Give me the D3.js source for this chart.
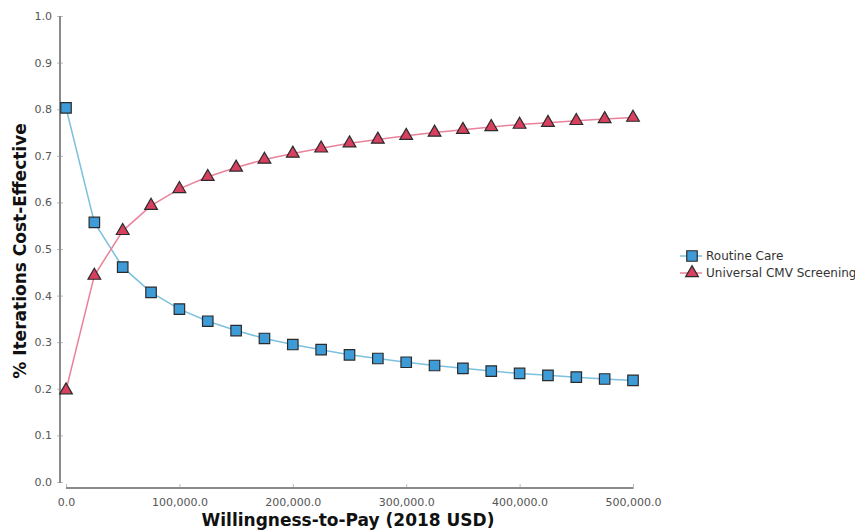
<!DOCTYPE html>
<html>
<head>
<meta charset="utf-8">
<script src="https://cdn.jsdelivr.net/npm/d3@7"></script>
<style>
  html, body { margin: 0; padding: 0; background: #fff; }
  svg { display: block; }
</style>
</head>
<body>
<svg id="chart" width="855" height="531"></svg>
<script>
// Willingness-to-pay thresholds (2018 USD)
const wtp = [0, 25000, 50000, 75000, 100000, 125000, 150000, 175000, 200000, 225000,
  250000, 275000, 300000, 325000, 350000, 375000, 400000, 425000, 450000, 475000, 500000];

// Share of iterations in which each strategy is cost-effective
const routineCare = [0.803, 0.557, 0.461, 0.407, 0.371, 0.345, 0.325, 0.308, 0.295, 0.284,
  0.273, 0.265, 0.257, 0.250, 0.244, 0.238, 0.233, 0.229, 0.225, 0.221, 0.218];
const universalScreening = [0.197, 0.443, 0.539, 0.593, 0.629, 0.655, 0.675, 0.692, 0.705, 0.716,
  0.727, 0.735, 0.743, 0.750, 0.756, 0.762, 0.767, 0.771, 0.775, 0.779, 0.782];

const seriesNames = ["Routine Care", "Universal CMV Screening"];
const xTicks = [0, 100000, 200000, 300000, 400000, 500000];
const yTicks = [0, 0.1, 0.2, 0.3, 0.4, 0.5, 0.6, 0.7, 0.8, 0.9, 1.0];

const svg = d3.select("#chart");
const font = "'DejaVu Sans', Verdana, sans-serif";

const x = d3.scaleLinear().domain([0, 500000]).range([66, 633]);
const y = d3.scaleLinear().domain([0, 1]).range([482, 16]);

const axisColor = "#8a8a8a";
const labelColor = "#555";

// y axis
const yAxis = svg.append("g").attr("transform", "translate(60,0)")
  .call(d3.axisLeft(y).tickValues(yTicks).tickFormat(d3.format(".1f")).tickSize(0).tickPadding(8));
yAxis.select(".domain").remove();
yAxis.append("line").attr("x1", 0).attr("x2", 0).attr("y1", y(1)).attr("y2", y(0) + 1)
  .attr("stroke", axisColor).attr("stroke-width", 2);
yAxis.selectAll(".tick").append("line").attr("x1", -3).attr("x2", 3)
  .attr("stroke", "#bbb").attr("stroke-width", 1);
yAxis.selectAll("text").attr("font-family", font).attr("font-size", 11).attr("fill", labelColor);

// x axis
const xAxis = svg.append("g").attr("transform", "translate(0,488)")
  .call(d3.axisBottom(x).tickValues(xTicks).tickFormat(d3.format(",.1f")).tickSize(0).tickPadding(10));
xAxis.select(".domain").remove();
xAxis.append("line").attr("x1", x(0)).attr("x2", x(500000)).attr("y1", 0).attr("y2", 0)
  .attr("stroke", axisColor).attr("stroke-width", 2);
xAxis.selectAll(".tick").append("line").attr("y1", -4).attr("y2", 1)
  .attr("stroke", "#bbb").attr("stroke-width", 1);
xAxis.selectAll("text").attr("font-family", font).attr("font-size", 11).attr("fill", labelColor);

// axis titles
svg.append("text").attr("x", 348).attr("y", 526).attr("text-anchor", "middle")
  .attr("font-family", font).attr("font-weight", "bold").attr("font-size", 17).attr("fill", "#111")
  .text("Willingness-to-Pay (2018 USD)");
svg.append("text").attr("transform", "translate(26,251) rotate(-90)").attr("text-anchor", "middle")
  .attr("font-family", font).attr("font-weight", "bold").attr("font-size", 17).attr("fill", "#111")
  .text("% Iterations Cost-Effective");

const series = [
  { name: seriesNames[0], values: routineCare, line: "#7cc0de", fill: "#3d9bd8", shape: d3.symbolSquare, size: 110 },
  { name: seriesNames[1], values: universalScreening, line: "#e9829a", fill: "#d8405f", shape: d3.symbolTriangle, size: 70 }
];

const line = d3.line().x((d, i) => x(wtp[i])).y(d => y(d));

series.forEach(s => {
  svg.append("path").datum(s.values).attr("d", line)
    .attr("fill", "none").attr("stroke", s.line).attr("stroke-width", 1.5);
});
series.forEach(s => {
  svg.append("g").selectAll("path").data(s.values).join("path")
    .attr("transform", (d, i) => `translate(${x(wtp[i])},${y(d)})`)
    .attr("d", d3.symbol().type(s.shape).size(s.size))
    .attr("fill", s.fill).attr("stroke", "#2b2b2b").attr("stroke-width", 1.2);
});

// legend
const legend = svg.append("g").attr("transform", "translate(680,256)");
series.forEach((s, i) => {
  const g = legend.append("g").attr("transform", `translate(0,${i * 17})`);
  g.append("line").attr("x1", 0).attr("x2", 22).attr("stroke", s.line).attr("stroke-width", 1.5);
  g.append("path").attr("transform", "translate(12,0)")
    .attr("d", d3.symbol().type(s.shape).size(s.size))
    .attr("fill", s.fill).attr("stroke", "#2b2b2b").attr("stroke-width", 1.2);
  g.append("text").attr("x", 26).attr("y", 4).attr("font-family", font).attr("font-size", 12)
    .attr("fill", "#333").text(s.name);
});
</script>
</body>
</html>
